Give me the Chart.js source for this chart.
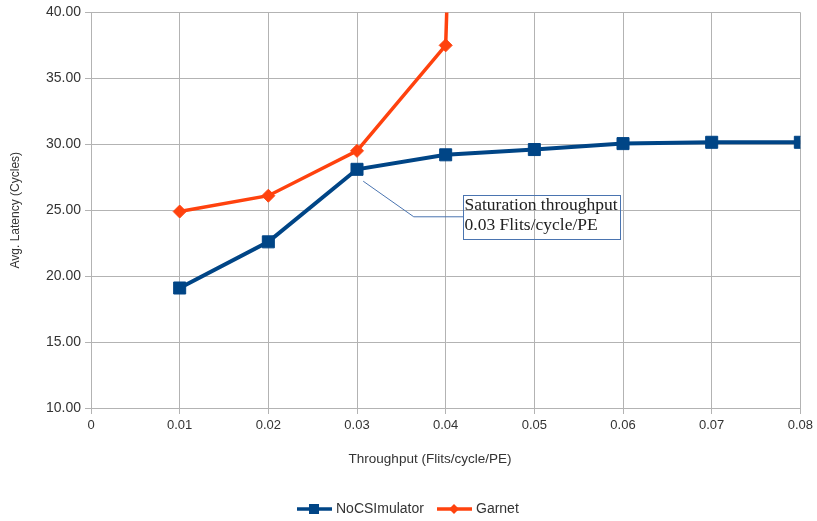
<!DOCTYPE html>
<html>
<head>
<meta charset="utf-8">
<title>Latency vs Throughput</title>
<script src="https://cdn.jsdelivr.net/npm/chart.js@4.4.1/dist/chart.umd.min.js"></script>
<style>
  html, body { margin: 0; padding: 0; background: #fff; }
  #wrap { width: 817px; height: 521px; }
</style>
</head>
<body>
<div id="wrap"><canvas id="latencyChart" width="817" height="521"></canvas></div>
<script>
// Injection rate (flits/cycle/PE)
const nocThroughput = [0.01, 0.02, 0.03, 0.04, 0.05, 0.06, 0.07, 0.08];
const nocLatency = [19.1, 22.6, 28.1, 29.2, 29.6, 30.05, 30.15, 30.15];

const garnetThroughput = [0.01, 0.02, 0.03, 0.04, 0.05];
const garnetLatency = [24.9, 26.1, 29.5, 37.5, 250];

// Axis ranges
const xRange = [0, 0.08, 0.01];
const yRange = [10, 40, 5];

const seriesNames = ["NoCSImulator", "Garnet"];
const seriesColors = ["#004586", "#ff420e"];

const annotationLines = ["Saturation throughput", "0.03 Flits/cycle/PE"];

const toPoints = (xs, ys) => xs.map((x, i) => ({ x: x, y: ys[i] }));

const SANS = "'Liberation Sans', Arial, sans-serif";
const SERIF = "'Liberation Serif', 'Times New Roman', serif";

// draws a legend key: short line with the marker in its middle
function drawKey(ctx, x, y, color, style) {
  ctx.save();
  ctx.strokeStyle = color;
  ctx.fillStyle = color;
  ctx.lineWidth = 3.5;
  ctx.beginPath();
  ctx.moveTo(x, y);
  ctx.lineTo(x + 35, y);
  ctx.stroke();
  const cx = x + 17;
  ctx.beginPath();
  if (style === "rect") {
    ctx.rect(cx - 5, y - 5, 10, 10);
  } else {
    ctx.moveTo(cx, y - 5);
    ctx.lineTo(cx + 5, y);
    ctx.lineTo(cx, y + 5);
    ctx.lineTo(cx - 5, y);
    ctx.closePath();
  }
  ctx.fill();
  ctx.restore();
}

const decorPlugin = {
  id: "decor",
  afterDraw(chart) {
    const ctx = chart.ctx;
    const xs = chart.scales.x;
    const ys = chart.scales.y;
    const area = chart.chartArea;
    const px = (v) => xs.getPixelForValue(v);
    const py = (v) => ys.getPixelForValue(v);

    ctx.save();
    // axis titles
    ctx.fillStyle = "#333";
    ctx.textAlign = "center";
    ctx.textBaseline = "middle";
    ctx.font = "13.5px " + SANS;
    ctx.fillText("Throughput (Flits/cycle/PE)", 430, 459);
    ctx.font = "12px " + SANS;
    ctx.save();
    ctx.translate(16, (area.top + area.bottom) / 2);
    ctx.rotate(-Math.PI / 2);
    ctx.fillText("Avg. Latency (Cycles)", 0, 0);
    ctx.restore();

    // callout for the saturation point
    ctx.strokeStyle = "#4a74b0";
    ctx.lineWidth = 1;
    ctx.beginPath();
    ctx.moveTo(px(0.0307), py(27.2));
    ctx.lineTo(px(0.0364), py(24.5));
    ctx.lineTo(px(0.042), py(24.5));
    ctx.stroke();
    const bx = Math.round(px(0.042)) + 0.5;
    const by = Math.round(py(26.15)) + 0.5;
    const bw = Math.round(px(0.0597) - px(0.042));
    const bh = Math.round(py(22.8) - py(26.15));
    ctx.strokeRect(bx, by, bw, bh);
    ctx.fillStyle = "#222";
    ctx.font = "17.5px " + SERIF;
    ctx.textAlign = "left";
    ctx.textBaseline = "alphabetic";
    ctx.fillText(annotationLines[0], bx + 1, by + 14);
    ctx.fillText(annotationLines[1], bx + 1, by + 34);

    // legend
    ctx.font = "14px " + SANS;
    ctx.fillStyle = "#333";
    ctx.textBaseline = "middle";
    drawKey(ctx, 297, 509, seriesColors[0], "rect");
    ctx.fillText(seriesNames[0], 336, 509);
    drawKey(ctx, 437, 509, seriesColors[1], "rectRot");
    ctx.fillText(seriesNames[1], 476, 509);
    ctx.restore();
  }
};

document.addEventListener("DOMContentLoaded", function () {
  const ctx = document.getElementById("latencyChart");
  new Chart(ctx, {
    type: "line",
    data: {
      datasets: [
        {
          label: seriesNames[0],
          data: toPoints(nocThroughput, nocLatency),
          borderColor: seriesColors[0],
          backgroundColor: seriesColors[0],
          borderWidth: 4,
          pointStyle: "rect",
          pointRadius: 8.5,
          pointHoverRadius: 8.5,
          pointBorderWidth: 1,
          tension: 0,
        },
        {
          label: seriesNames[1],
          data: toPoints(garnetThroughput, garnetLatency),
          borderColor: seriesColors[1],
          backgroundColor: seriesColors[1],
          borderWidth: 3.5,
          pointStyle: "rectRot",
          pointRadius: 6.5,
          pointHoverRadius: 6.5,
          pointBorderWidth: 1,
          tension: 0,
        },
      ],
    },
    options: {
      responsive: false,
      animation: false,
      layout: { padding: { left: 0, right: 16, top: 7, bottom: 0 } },
      plugins: {
        legend: { display: false },
        tooltip: { enabled: false },
      },
      scales: {
        x: {
          type: "linear",
          min: xRange[0],
          max: xRange[1],
          afterFit(scale) { scale.height = 113; },
          ticks: {
            stepSize: xRange[2],
            color: "#333",
            font: { family: SANS, size: 13 },
            padding: 4,
            maxRotation: 0,
            callback: (v) => (v === 0 ? "0" : v.toFixed(2)),
          },
          grid: { color: "#b3b3b3", tickLength: 6 },
          border: { color: "#b3b3b3" },
        },
        y: {
          min: yRange[0],
          max: yRange[1],
          afterFit(scale) { scale.width = 91; },
          ticks: {
            stepSize: yRange[2],
            color: "#333",
            font: { family: SANS, size: 14 },
            padding: 4,
            callback: (v) => v.toFixed(2),
          },
          grid: { color: "#b3b3b3", tickLength: 6 },
          border: { color: "#b3b3b3" },
        },
      },
    },
    plugins: [decorPlugin],
  });
});
</script>
</body>
</html>
